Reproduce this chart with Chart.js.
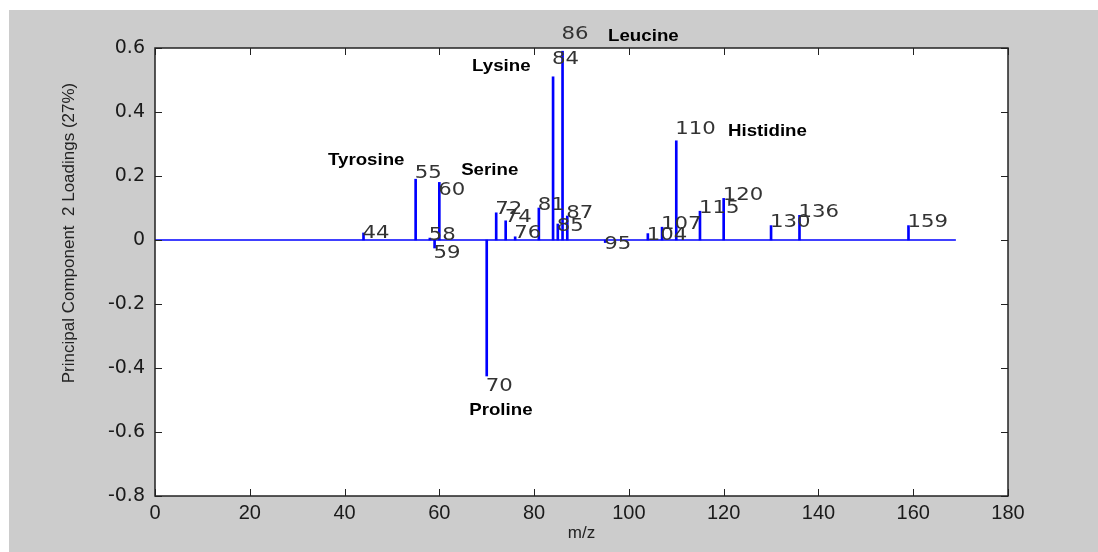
<!DOCTYPE html>
<html>
<head>
<meta charset="utf-8">
<script src="https://cdn.jsdelivr.net/npm/chart.js@4/dist/chart.umd.min.js"></script>
<style>
  html, body { margin: 0; padding: 0; background: #fff; }
  #wrap { width: 1098px; height: 552px; position: relative; }
</style>
</head>
<body>
<div id="wrap"><canvas id="chart"></canvas></div>
<script>
// m/z of each peak and its PC2 loading
const mz      = [44, 55, 58, 59, 60, 70, 72, 74, 76, 81, 84, 85, 86, 87, 95, 104, 107, 110, 115, 120, 130, 136, 159];
const loading = [0.022, 0.19, 0.006, -0.025, 0.18, -0.425, 0.085, 0.06, 0.01, 0.10, 0.51, 0.05, 0.59, 0.075, -0.008, 0.02, 0.04, 0.31, 0.09, 0.13, 0.045, 0.077, 0.045];
const peakText = mz.map(String);

// the flat zero trace runs over the measured range
const baselineMz = [0, 169];

// amino acid names and where they sit (m/z, loading)
const aminoNames = ['Leucine', 'Lysine', 'Histidine', 'Tyrosine', 'Serine', 'Proline'];
const aminoMz    = [95.6, 66.9, 120.9, 36.5, 64.6, 66.3];
const aminoLoad  = [0.635, 0.542, 0.339, 0.248, 0.217, -0.531];

const xTicks = [0, 20, 40, 60, 80, 100, 120, 140, 160, 180];
const yTicks = [-0.8, -0.6, -0.4, -0.2, 0, 0.2, 0.4, 0.6];

const xTitle = 'm/z';
const yTitle = 'Principal Component  2 Loadings (27%)';

// small vertical nudges of the peak numbers, in px
const nudge = { 44: 0, 55: -6, 59: 5, 60: 8, 70: 10, 84: -17, 85: 2, 86: -17, 95: 2, 104: 2, 110: -11 };

const STEM = '#0000ff';

const matlabLook = {
  id: 'matlabLook',
  beforeDraw(chart) {
    const ctx = chart.ctx, a = chart.chartArea;
    ctx.save();
    ctx.fillStyle = '#fff';
    ctx.fillRect(0, 0, chart.width, chart.height);
    ctx.fillStyle = '#cccccc';
    ctx.fillRect(9, 10, chart.width - 9, chart.height - 10);
    ctx.fillStyle = '#fff';
    ctx.fillRect(a.left, a.top, a.right - a.left, a.bottom - a.top);
    ctx.restore();
  },
  afterDatasetsDraw(chart) {
    const ctx = chart.ctx, a = chart.chartArea;
    const xs = chart.scales.x, ys = chart.scales.y;
    ctx.save();

    // box and inward ticks
    ctx.strokeStyle = '#222';
    ctx.lineWidth = 1.5;
    ctx.strokeRect(a.left, a.top, a.right - a.left, a.bottom - a.top);
    ctx.lineWidth = 1;
    ctx.beginPath();
    xTicks.forEach(t => {
      const px = Math.round(xs.getPixelForValue(t)) + 0.5;
      ctx.moveTo(px, a.bottom); ctx.lineTo(px, a.bottom - 7);
      ctx.moveTo(px, a.top); ctx.lineTo(px, a.top + 7);
    });
    yTicks.forEach(t => {
      const py = Math.round(ys.getPixelForValue(t)) + 0.5;
      ctx.moveTo(a.left, py); ctx.lineTo(a.left + 7, py);
      ctx.moveTo(a.right, py); ctx.lineTo(a.right - 7, py);
    });
    ctx.stroke();

    // peak numbers
    ctx.fillStyle = '#333';
    ctx.font = '18px "DejaVu Sans"';
    ctx.textAlign = 'left';
    ctx.textBaseline = 'middle';
    mz.forEach((m, i) => {
      const v = loading[i];
      const px = xs.getPixelForValue(m) - 1;
      const py = ys.getPixelForValue(v) + (m in nudge ? nudge[m] : (v < 0 ? 5 : -3));
      ctx.save();
      ctx.translate(px, py);
      ctx.scale(1.18, 1);
      ctx.fillText(peakText[i], 0, 0);
      ctx.restore();
    });

    // amino acid names
    ctx.fillStyle = '#000';
    ctx.font = 'bold 17px "Liberation Sans", Arial';
    aminoNames.forEach((n, i) => {
      const px = xs.getPixelForValue(aminoMz[i]);
      const py = ys.getPixelForValue(aminoLoad[i]);
      ctx.save();
      ctx.translate(px, py);
      ctx.scale(1.1, 1);
      ctx.fillText(n, 0, 0);
      ctx.restore();
    });

    // axis titles
    ctx.fillStyle = '#222';
    ctx.font = '17px "Liberation Sans", Arial';
    ctx.textAlign = 'center';
    ctx.fillText(xTitle, (a.left + a.right) / 2, 533);
    ctx.save();
    ctx.translate(69, 233);
    ctx.rotate(-Math.PI / 2);
    ctx.fillText(yTitle, 0, 0);
    ctx.restore();

    ctx.restore();
  }
};

new Chart(document.getElementById('chart'), {
  type: 'bar',
  data: {
    datasets: [
      {
        type: 'line',
        data: baselineMz.map(m => ({ x: m, y: 0 })),
        borderColor: STEM,
        borderWidth: 1.5,
        pointRadius: 0,
        order: 1
      },
      {
        type: 'bar',
        data: mz.map((m, i) => ({ x: m, y: loading[i] })),
        backgroundColor: STEM,
        borderWidth: 0,
        barThickness: 2,
        grouped: false,
        order: 0
      }
    ]
  },
  options: {
    responsive: true,
    maintainAspectRatio: false,
    animation: false,
    layout: { padding: { top: 48, right: 90, bottom: 0, left: 0 } },
    plugins: { legend: { display: false }, tooltip: { enabled: false } },
    scales: {
      x: {
        type: 'linear',
        offset: false,
        min: xTicks[0],
        max: xTicks[xTicks.length - 1],
        afterBuildTicks: s => { s.ticks = xTicks.map(v => ({ value: v })); },
        afterFit: s => { s.height = 56; },
        grid: { display: false, drawTicks: false, offset: false },
        border: { display: false },
        ticks: {
          padding: 5,
          maxRotation: 0,
          color: '#1a1a1a',
          font: { family: '"Liberation Sans", Arial', size: 20 }
        }
      },
      y: {
        min: yTicks[0],
        max: yTicks[yTicks.length - 1],
        afterBuildTicks: s => { s.ticks = yTicks.map(v => ({ value: v })); },
        afterFit: s => { s.width = 155; },
        grid: { display: false, drawTicks: false },
        border: { display: false },
        ticks: {
          padding: 10,
          color: '#1a1a1a',
          font: { family: '"DejaVu Sans"', size: 19 },
          callback: v => (Math.abs(v) < 1e-9 ? '0' : String(Math.round(v * 10) / 10))
        }
      }
    }
  },
  plugins: [matlabLook]
});
</script>
</body>
</html>
